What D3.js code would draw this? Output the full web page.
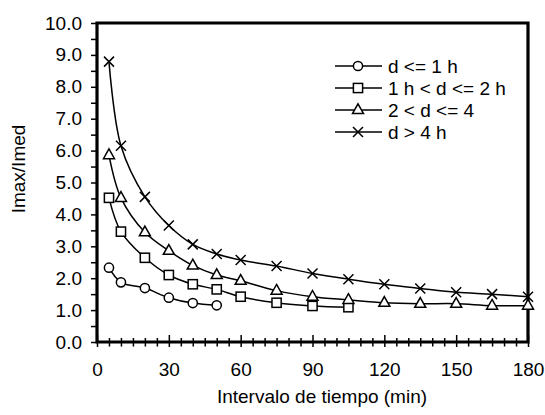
<!DOCTYPE html>
<html>
<head>
<meta charset="utf-8">
<script src="https://cdn.jsdelivr.net/npm/d3@7"></script>
<style>
  html, body { margin: 0; padding: 0; background: #fff; }
  svg { display: block; font-family: "Liberation Sans", Arial, sans-serif; }
</style>
</head>
<body>
<svg id="chart" width="545" height="415"></svg>
<script>
// ---- data ----
const seriesNames = ["d <= 1 h", "1 h < d <= 2 h", "2 < d <= 4", "d > 4 h"];
const xCircle = [5, 10, 20, 30, 40, 50];
const yCircle = [2.33, 1.87, 1.69, 1.39, 1.22, 1.15];
const xSquare = [5, 10, 20, 30, 40, 50, 60, 75, 90, 105];
const ySquare = [4.52, 3.46, 2.64, 2.10, 1.81, 1.65, 1.42, 1.23, 1.13, 1.09];
const xTriangle = [5, 10, 20, 30, 40, 50, 60, 75, 90, 105, 120, 135, 150, 165, 180];
const yTriangle = [5.86, 4.52, 3.44, 2.86, 2.40, 2.10, 1.92, 1.61, 1.42, 1.32, 1.23, 1.20, 1.20, 1.14, 1.14];
const xCross = [5, 10, 20, 30, 40, 50, 60, 75, 90, 105, 120, 135, 150, 165, 180];
const yCross = [8.79, 6.15, 4.55, 3.65, 3.06, 2.76, 2.57, 2.38, 2.15, 1.97, 1.81, 1.68, 1.56, 1.50, 1.42];
const xTickLabels = [0, 30, 60, 90, 120, 150, 180];
const yTickLabels = [0, 1, 2, 3, 4, 5, 6, 7, 8, 9, 10];
const xTitle = "Intervalo de tiempo (min)";
const yTitle = "Imax/Imed";

// ---- layout ----
const L = 97, R = 528, T = 23, B = 342;
const svg = d3.select("#chart");
const x = d3.scaleLinear().domain([0, 180]).range([L, R]);
const y = d3.scaleLinear().domain([0, 10]).range([B, T]);
const FS = 19;

const series = [
  { name: seriesNames[0], xs: xCircle, ys: yCircle, marker: "circle" },
  { name: seriesNames[1], xs: xSquare, ys: ySquare, marker: "square" },
  { name: seriesNames[2], xs: xTriangle, ys: yTriangle, marker: "triangle" },
  { name: seriesNames[3], xs: xCross, ys: yCross, marker: "cross" }
];

function drawMarker(g, type, cx, cy) {
  const s = { fill: "#fff", stroke: "#000", "stroke-width": 1.5 };
  let el;
  if (type === "circle") {
    el = g.append("circle").attr("cx", cx).attr("cy", cy).attr("r", 4.6);
  } else if (type === "square") {
    el = g.append("rect").attr("x", cx - 4.6).attr("y", cy - 4.6).attr("width", 9.2).attr("height", 9.2);
  } else if (type === "triangle") {
    el = g.append("path").attr("d", `M${cx},${cy - 6.2}L${cx + 5.5},${cy + 3.6}L${cx - 5.5},${cy + 3.6}Z`);
  } else {
    el = g.append("path").attr("d", `M${cx - 5},${cy - 5}L${cx + 5},${cy + 5}M${cx - 5},${cy + 5}L${cx + 5},${cy - 5}`);
  }
  Object.entries(s).forEach(([k, v]) => el.attr(k, v));
}

// ---- axes ----
const yMinor = d3.range(0.5, 10, 1);
svg.append("g").attr("transform", `translate(${L},0)`)
  .call(d3.axisLeft(y).tickValues(yMinor).tickSize(6).tickFormat(""))
  .call(g => g.select(".domain").remove())
  .call(g => g.selectAll("line").attr("stroke-width", 1.5));
svg.append("g").attr("transform", `translate(${L},0)`)
  .call(d3.axisLeft(y).tickValues(yTickLabels).tickSize(6).tickPadding(9).tickFormat(d3.format(".1f")))
  .call(g => g.select(".domain").remove())
  .call(g => g.selectAll("line").attr("stroke-width", 1.5))
  .call(g => g.selectAll("text").attr("font-size", FS).attr("font-family", "Liberation Sans, Arial, sans-serif").attr("fill", "#000"));

const xMinor = d3.range(5, 180, 5).filter(v => v % 30 !== 0);
svg.append("g").attr("transform", `translate(0,${B})`)
  .call(d3.axisBottom(x).tickValues(xMinor).tickSize(4.5).tickFormat(""))
  .call(g => g.select(".domain").remove())
  .call(g => g.selectAll("line").attr("y1", -4).attr("stroke-width", 1.5));
svg.append("g").attr("transform", `translate(0,${B})`)
  .call(d3.axisBottom(x).tickValues(xTickLabels).tickSize(5).tickPadding(16))
  .call(g => g.select(".domain").remove())
  .call(g => g.selectAll("line").attr("y1", -7).attr("stroke-width", 1.5))
  .call(g => g.selectAll("text").attr("font-size", FS).attr("font-family", "Liberation Sans, Arial, sans-serif").attr("fill", "#000"));

// frame
svg.append("path")
  .attr("d", `M${L},${B}V${T}H${R}V${B}H${L}`)
  .attr("fill", "none").attr("stroke", "#000").attr("stroke-width", 3.2)
  .attr("stroke-linecap", "square");

// titles
svg.append("text").attr("x", 322).attr("y", 402.5)
  .attr("text-anchor", "middle").attr("font-size", FS).attr("fill", "#000").text(xTitle);
svg.append("text").attr("transform", "translate(25,169) rotate(-90)")
  .attr("text-anchor", "middle").attr("font-size", FS).attr("fill", "#000").text(yTitle);

// ---- series ----
const line = d3.line().x(d => x(d[0])).y(d => y(d[1])).curve(d3.curveCatmullRom.alpha(0.5));
const gS = svg.append("g");
series.forEach(s => {
  const pts = s.xs.map((v, i) => [v, s.ys[i]]);
  gS.append("path").datum(pts).attr("d", line)
    .attr("fill", "none").attr("stroke", "#000").attr("stroke-width", 1.5);
});
series.forEach(s => {
  s.xs.forEach((v, i) => drawMarker(gS, s.marker, x(v), y(s.ys[i])));
});

// ---- legend ----
const lg = svg.append("g");
series.forEach((s, i) => {
  const cy = 66 + i * 22;
  lg.append("line").attr("x1", 335).attr("x2", 382).attr("y1", cy).attr("y2", cy)
    .attr("stroke", "#000").attr("stroke-width", 1.5);
  drawMarker(lg, s.marker, 358, cy);
  lg.append("text").attr("x", 388).attr("y", cy).attr("dy", "0.36em")
    .attr("font-size", FS).attr("fill", "#000").text(s.name);
});
</script>
</body>
</html>
